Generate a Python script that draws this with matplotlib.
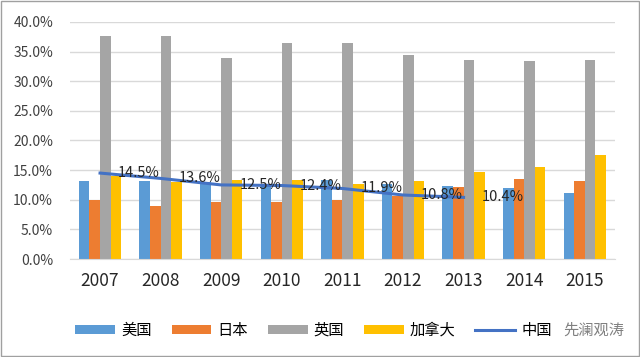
import matplotlib.pyplot as plt
import numpy as np
from matplotlib.patches import Rectangle

plt.rcParams['font.family'] = ['Noto Sans CJK SC', 'DejaVu Sans']

years = ["2007", "2008", "2009", "2010", "2011", "2012", "2013", "2014", "2015"]
usa = [13.2, 13.2, 13.0, 12.4, 13.4, 12.6, 12.4, 11.9, 11.2]
japan = [10.0, 9.0, 9.6, 9.6, 10.0, 10.6, 12.1, 13.5, 13.1]
uk = [37.6, 37.6, 34.0, 36.4, 36.4, 34.5, 33.6, 33.4, 33.6]
canada = [14.0, 13.0, 13.3, 13.3, 12.7, 13.1, 14.7, 15.5, 17.6]
china = [14.5, 13.6, 12.5, 12.4, 11.9, 10.8, 10.4]
china_labels = ["14.5%", "13.6%", "12.5%", "12.4%", "11.9%", "10.8%", "10.4%"]

fig = plt.figure(figsize=(6.4, 3.57), dpi=100)
ax = fig.add_axes([0.109, 0.2745, 0.852, 0.664])

x = np.arange(len(years))
w = 0.175
ax.bar(x - 1.5 * w, usa, w, color="#5B9BD5", label="美国", zorder=2)
ax.bar(x - 0.5 * w, japan, w, color="#ED7D31", label="日本", zorder=2)
ax.bar(x + 0.5 * w, uk, w, color="#A5A5A5", label="英国", zorder=2)
ax.bar(x + 1.5 * w, canada, w, color="#FFC000", label="加拿大", zorder=2)
xc = np.arange(len(china))
ax.plot(xc, china, color="#4472C4", lw=2.2, label="中国", zorder=3)
for xi, yi, t in zip(xc, china, china_labels):
    ax.annotate(t, (xi, yi), xytext=(13, 0), textcoords="offset points",
                ha="left", va="center", fontsize=10.5, color="#262626", zorder=4)

ax.set_xlim(-0.5, len(years) - 0.5)
ax.set_ylim(0, 40)
ax.set_yticks(np.arange(0, 41, 5))
ax.set_yticklabels([f"{v:.1f}%" for v in np.arange(0, 41, 5)], fontsize=10, color="#404040")
ax.set_xticks(x)
ax.set_xticklabels(years, fontsize=12.5, color="#262626")
ax.tick_params(length=0)
ax.tick_params(axis="x", pad=9)
ax.tick_params(axis="y", pad=12)
ax.grid(axis="y", color="#D9D9D9", lw=1, zorder=0)
for s in ["top", "right", "left"]:
    ax.spines[s].set_visible(False)
ax.spines["bottom"].set_color("#D9D9D9")

handles, labels = ax.get_legend_handles_labels()
order = [1, 2, 3, 4, 0]
fig.legend([handles[i] for i in order], [labels[i] for i in order],
           loc="center", bbox_to_anchor=(0.49, 0.075), ncol=5, frameon=False,
           fontsize=11, handlelength=2.6, handleheight=0.5, handletextpad=0.4,
           columnspacing=1.3)
fig.text(0.928, 0.075, "先澜观涛", fontsize=11, color="#808080", ha="center", va="center")

fig.patches.append(Rectangle((0.002, 0.003), 0.996, 0.994, transform=fig.transFigure,
                             fill=False, edgecolor="#A0A0A0", lw=1))

fig.savefig("out.png", dpi=100)
